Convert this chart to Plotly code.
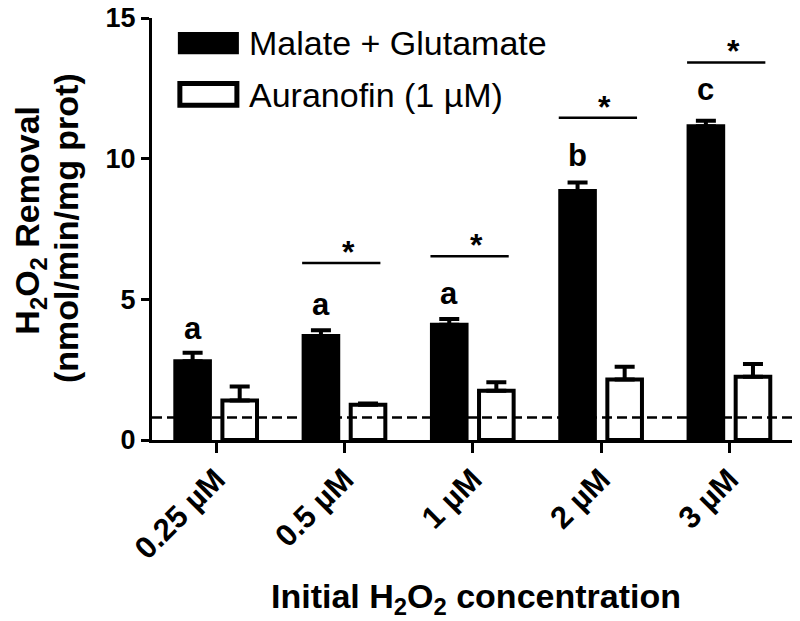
import plotly.graph_objects as go

concentrations = ['0.25 µM', '0.5 µM', '1 µM', '2 µM', '3 µM']
malate_glutamate = [2.8, 3.7, 4.1, 8.85, 11.15]
malate_glutamate_err = [0.3, 0.2, 0.2, 0.3, 0.2]
auranofin = [1.4, 1.25, 1.75, 2.15, 2.25]
auranofin_err = [0.5, 0.05, 0.3, 0.45, 0.45]
baseline = 0.8

letters = ['a', 'a', 'a', 'b', 'c']
letter_y = [3.27, 4.11, 4.53, 9.41, 11.77]
star_groups = [1, 2, 3, 4]
star_line_y = [6.29, 6.53, 11.45, 13.42]

FONT = 'Liberation Sans, Arial, sans-serif'

fig = go.Figure()
fig.add_trace(go.Bar(
    x=concentrations, y=malate_glutamate, name='Malate + Glutamate',
    marker=dict(color='black', line=dict(color='black', width=4)),
    error_y=dict(type='data', array=malate_glutamate_err, arrayminus=[0] * 5,
                 symmetric=False, color='black', thickness=4, width=10),
))
fig.add_trace(go.Bar(
    x=concentrations, y=auranofin, name='Auranofin (1 µM)',
    marker=dict(color='white', line=dict(color='black', width=4)),
    error_y=dict(type='data', array=auranofin_err, arrayminus=[0] * 5,
                 symmetric=False, color='black', thickness=4, width=10),
))

# dashed baseline
fig.add_shape(type='line', xref='paper', x0=0, x1=1, y0=baseline, y1=baseline,
              line=dict(color='black', width=2.5, dash='10px,5px'))

# letters above black bars
for i, (t, y) in enumerate(zip(letters, letter_y)):
    fig.add_annotation(x=i - 0.184, y=y, text=t, showarrow=False, yanchor='bottom',
                       font=dict(family=FONT, size=31, color='black', weight='bold'))

# significance lines with stars
for g, y in zip(star_groups, star_line_y):
    fig.add_shape(type='line', x0=g - 0.33, x1=g + 0.28, y0=y, y1=y,
                  line=dict(color='black', width=2.5))
    fig.add_annotation(x=g + 0.03, y=y, text='*', showarrow=False, yanchor='middle',
                       yshift=11, font=dict(family=FONT, size=32, color='black', weight='bold'))

# legend drawn by hand (wide rectangles)
fig.add_shape(type='rect', xref='paper', yref='paper', x0=0.043, x1=0.131, y0=0.919, y1=0.962,
              fillcolor='black', line=dict(color='black', width=4))
fig.add_shape(type='rect', xref='paper', yref='paper', x0=0.043, x1=0.131, y0=0.793, y1=0.845,
              fillcolor='white', line=dict(color='black', width=5))
fig.add_annotation(xref='paper', yref='paper', x=0.146, y=0.941, text='Malate + Glutamate',
                   showarrow=False, xanchor='left', yanchor='middle',
                   font=dict(family=FONT, size=34, color='black'))
fig.add_annotation(xref='paper', yref='paper', x=0.146, y=0.818, text='Auranofin (1 µM)',
                   showarrow=False, xanchor='left', yanchor='middle',
                   font=dict(family=FONT, size=34, color='black'))

# axis titles
fig.add_annotation(xref='paper', yref='paper', x=-0.189, y=0.521, textangle=-90,
                   text='H<sub>2</sub>O<sub>2</sub> Removal',
                   showarrow=False, xanchor='center', yanchor='middle',
                   font=dict(family=FONT, size=34, color='black', weight='bold'))
fig.add_annotation(xref='paper', yref='paper', x=-0.133, y=0.502, textangle=-90,
                   text='(nmol/min/mg prot)',
                   showarrow=False, xanchor='center', yanchor='middle',
                   font=dict(family=FONT, size=34, color='black', weight='bold'))
fig.add_annotation(xref='paper', yref='paper', x=0.5, y=-0.431,
                   text='Initial H<sub>2</sub>O<sub>2</sub> concentration',
                   showarrow=False, xanchor='center', yanchor='bottom',
                   font=dict(family=FONT, size=34, color='black', weight='bold'))

fig.update_layout(
    width=792, height=613,
    margin=dict(l=144, r=0, t=10, b=181),
    plot_bgcolor='white', paper_bgcolor='white',
    barmode='group', bargap=0.266, bargroupgap=0.265,
    showlegend=False,
    font=dict(family=FONT, color='black'),
)
fig.update_xaxes(
    range=[-0.5, 4.55], showgrid=False, zeroline=False, automargin=False,
    showline=True, linecolor='black', linewidth=2.5,
    ticks='outside', ticklen=10, tickwidth=2.5, tickcolor='black',
    ticklabelstandoff=-4,
    tickangle=-45, tickfont=dict(family=FONT, size=31, color='black', weight='bold'),
)
fig.update_yaxes(
    range=[0, 15], tickvals=[0, 5, 10, 15], showgrid=False, zeroline=False, automargin=False,
    showline=True, linecolor='black', linewidth=3,
    ticks='outside', ticklen=8, tickwidth=3, tickcolor='black',
    ticklabeloverflow='allow',
    tickfont=dict(family=FONT, size=27, color='black', weight='bold'),
)

fig.write_html('out.html')
